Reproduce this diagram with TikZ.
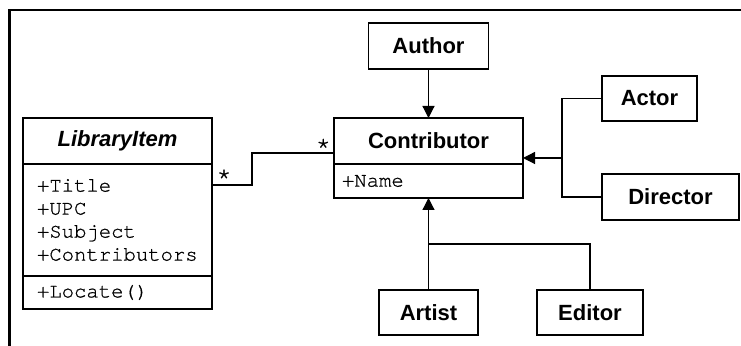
\documentclass[tikz,border=0pt]{standalone}
\usepackage{fontspec}
\setsansfont{Liberation Sans}
\setmonofont[FakeBold=0.8]{TeX Gyre Cursor}
\usetikzlibrary{positioning,fit,calc,arrows.meta}

\begin{document}
\begin{tikzpicture}[
				classhead/.style={rectangle, draw=black, line width=0.65pt, outer sep=0pt, inner sep=0pt, minimum width=94.5pt, minimum height=23pt, font=\fontsize{11}{13}\selectfont\sffamily\bfseries},
				members/.style={rectangle, draw=black, line width=0.65pt, outer sep=0pt, inner ysep=0pt, align=left, font=\fontsize{10.3}{11.5}\selectfont\ttfamily},
				sub/.style={rectangle, draw=black, line width=0.65pt, outer sep=0pt, inner sep=0pt, minimum height=22.5pt, font=\fontsize{11}{13}\selectfont\sffamily\bfseries},
				mult/.style={inner sep=0pt, font=\fontsize{12.5}{13}\selectfont\ttfamily}
			]
			\useasboundingbox (-58.75pt,70.5pt) rectangle (311.75pt,-102.5pt);
			\draw[line width=1.3pt] (-54pt,-102.5pt) |- (311.75pt,65.5pt);

			\node[classhead] (libtitle) at (0,0) {\itshape LibraryItem};
			\node[members, inner xsep=7pt, text width=80.5pt, minimum height=56pt] (libattr) [below=0pt of libtitle] {+Title\\+UPC\\+Subject\\+Contributors};
			\node[members, inner xsep=7pt, text width=80.5pt, minimum height=16.5pt] (libops) [below=0pt of libattr] {+Locate()};

			\node[classhead] (contitle) [right=61pt of libtitle] {Contributor};
			\node[members, inner xsep=4pt, text width=86.5pt, minimum height=17pt] (contattr) [below=0pt of contitle] {+Name};
			\node[fit=(contitle)(contattr), inner sep=0pt, outer sep=0pt] (contributor) {};

			\node[sub, minimum width=60pt, minimum height=23pt] (author) [above=24.5pt of contitle] {Author};
			\node[sub, minimum width=47.5pt] (actor) [above right=-1.5pt and 39.5pt of contitle.north east] {Actor};
			\node[sub, minimum width=68.5pt, minimum height=23pt] (director) [below right=26.5pt and 0pt of actor.south west] {Director};
			\node[sub, minimum width=49.5pt] (artist) [below=46pt of contattr] {Artist};
			\node[sub, minimum width=53pt] (editor) [right=29.5pt of artist] {Editor};

			\coordinate[right=19.5pt of contributor.east] (castjoin);
			\coordinate[above=23pt of artist.north] (crewjoin);
			\coordinate[below=10.5pt of libattr.north east] (libend);
			\coordinate[above=5.5pt of contitle.south west] (contend);

			\node[mult] (libmult) at ([shift={(6pt,4pt)}]libend) {*};
			\node[mult] (contmult) at ([shift={(-5.35pt,3.3pt)}]contend) {*};

			\begin{scope}[line width=0.6pt]
			\draw (libend) -- ++(20pt,0) |- (contend);
			\draw (actor.west) -| (castjoin);
			\draw (director.west) -| (castjoin);
			\draw (editor.north) |- (crewjoin);
			\end{scope}
			\begin{scope}[line width=0.6pt, -{Triangle[length=6pt,width=6pt]}]
			\draw (author) -- (contitle);
			\draw (castjoin) -- (contributor.east);
			\draw (artist) -- (contributor);
			\end{scope}
			\end{tikzpicture}
\end{document}
